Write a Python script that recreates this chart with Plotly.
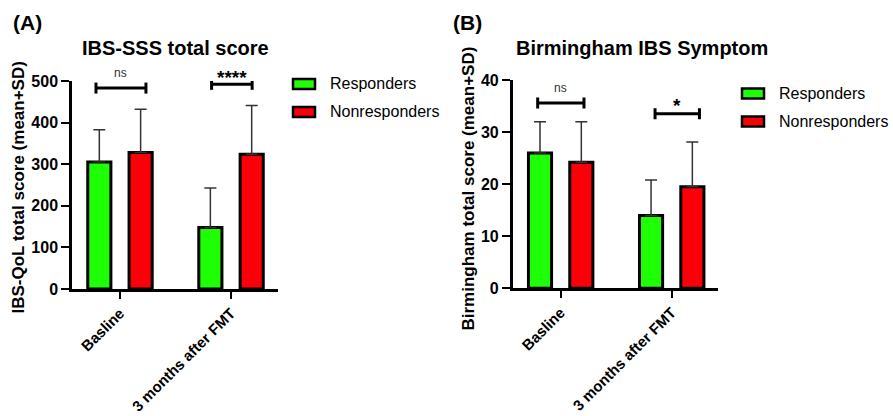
import plotly.graph_objects as go

# ---------------- data ----------------
categories = ["Basline", "3 months after FMT"]
series_names = ["Responders", "Nonresponders"]

# Panel A: IBS-SSS total score (mean + SD)
a_resp_mean = [305, 148]
a_resp_sd = [78, 95]
a_nonresp_mean = [328, 324]
a_nonresp_sd = [104, 117]
a_yticks = [0, 100, 200, 300, 400, 500]

# Panel B: Birmingham IBS Symptom (mean + SD)
b_resp_mean = [26.0, 14.0]
b_resp_sd = [6.0, 6.8]
b_nonresp_mean = [24.2, 19.5]
b_nonresp_sd = [7.8, 8.6]
b_yticks = [0, 10, 20, 30, 40]

# significance brackets: (category index, left, right, level, label)
a_sig = [(0, -0.216, 0.234, 483, "ns"), (1, -0.175, 0.19, 492, "****")]
b_sig = [(0, -0.207, 0.21, 35.6, "ns"), (1, -0.15, 0.25, 33.5, "*")]

GREEN = "#1EFF06"
RED = "#FA0008"
W, H = 893, 416
FONT = "Liberation Sans, Arial, Helvetica, sans-serif"


def px(x):
    return x / W


def py(y):
    return 1 - y / H


fig = go.Figure()


def add_bars(xa, ya, resp_m, resp_sd, non_m, non_sd):
    for name, m, sd, col in [("Responders", resp_m, resp_sd, GREEN),
                             ("Nonresponders", non_m, non_sd, RED)]:
        fig.add_trace(go.Bar(
            x=categories, y=m, name=name, xaxis=xa, yaxis=ya,
            marker=dict(color=col, line=dict(color="black", width=3)),
            error_y=dict(type="data", array=sd, arrayminus=[0] * len(sd),
                         symmetric=False, color="#333333", thickness=1.5, width=6),
            showlegend=False,
        ))


add_bars("x", "y", a_resp_mean, a_resp_sd, a_nonresp_mean, a_nonresp_sd)
add_bars("x2", "y2", b_resp_mean, b_resp_sd, b_nonresp_mean, b_nonresp_sd)

ytickfont = dict(family=FONT, size=16, color="black", weight="bold")
xtickfont = dict(family=FONT, size=15, color="black", weight="bold")
xcommon = dict(type="category", categoryorder="array", categoryarray=categories,
               showline=True, linewidth=2.5, linecolor="black", ticks="outside",
               ticklen=7, tickwidth=2, tickcolor="black", tickangle=-45,
               tickfont=xtickfont, showgrid=False, zeroline=False, fixedrange=True,
               automargin=False)
ycommon = dict(showline=True, linewidth=2.5, linecolor="black", ticks="outside",
               ticklen=8, tickwidth=2, tickcolor="black", tickfont=ytickfont,
               showgrid=False, zeroline=False, fixedrange=True, automargin=False)

fig.update_layout(
    width=W, height=H,
    margin=dict(l=0, r=0, t=0, b=0),
    paper_bgcolor="white", plot_bgcolor="white",
    barmode="group", bargap=0.256, bargroupgap=0.44,
    font=dict(family=FONT, color="black"),
    xaxis=dict(domain=[px(72), px(278)], range=[-0.432, 1.423], anchor="y", **xcommon),
    yaxis=dict(domain=[py(289), py(81)], range=[0, 500], tickvals=a_yticks,
               anchor="x", **ycommon),
    xaxis2=dict(domain=[px(512.7), px(718)], range=[-0.432, 1.417], anchor="y2", **xcommon),
    yaxis2=dict(domain=[py(288.3), py(80)], range=[0, 40], tickvals=b_yticks,
                anchor="x2", **ycommon),
)

shapes = []
annotations = []


def add_brackets(sig, xr, yr):
    for ci, l, r, lvl, lab in sig:
        shapes.append(dict(type="line", xref=xr, yref=yr, x0=ci + l, x1=ci + r,
                           y0=lvl, y1=lvl, line=dict(color="black", width=3)))
        for e in (l, r):
            shapes.append(dict(type="line", xref=xr, yref=yr, x0=ci + e, x1=ci + e,
                               ysizemode="pixel", yanchor=lvl, y0=-5.5, y1=5.5,
                               line=dict(color="black", width=3)))
        if lab == "ns":
            annotations.append(dict(x=ci + (l + r) / 2, y=lvl, xref=xr, yref=yr,
                                    text="ns", showarrow=False, yshift=15,
                                    font=dict(size=12, color="#333333", family=FONT)))
        else:
            annotations.append(dict(x=ci + (l + r) / 2, y=lvl, xref=xr, yref=yr,
                                    text=lab, showarrow=False,
                                    yshift=7 if len(lab) > 1 else 8,
                                    font=dict(size=19, color="black", family=FONT,
                                              weight="bold")))


add_brackets(a_sig, "x", "y")
add_brackets(b_sig, "x2", "y2")

# Panel letters and titles
for txt, x in [("(A)", 11), ("(B)", 451)]:
    annotations.append(dict(x=px(x), y=py(22), xref="paper", yref="paper", text=txt,
                            showarrow=False, xanchor="left", yanchor="middle",
                            font=dict(size=21, weight="bold", family=FONT, color="black")))
for txt, x in [("IBS-SSS total score", 175), ("Birmingham IBS Symptom", 642)]:
    annotations.append(dict(x=px(x), y=py(48), xref="paper", yref="paper", text=txt,
                            showarrow=False, xanchor="center", yanchor="middle",
                            font=dict(size=20, weight="bold", family=FONT, color="black")))

# Y-axis titles
for txt, x, y in [("IBS-QoL total score (mean+SD)", 18.5, 188),
                  ("Birmingham total score (mean+SD)", 468.5, 188)]:
    annotations.append(dict(x=px(x), y=py(y), xref="paper", yref="paper", text=txt,
                            showarrow=False, textangle=-90, xanchor="center",
                            yanchor="middle",
                            font=dict(size=17, weight="bold", family=FONT, color="black")))

# Legends (drawn manually to match the wide swatches)
legend_specs = [
    (293, 330, [84, 112]),
    (742, 779, [93.5, 121.5]),
]
for box_x, text_x, ys in legend_specs:
    for name, col, yc in zip(series_names, [GREEN, RED], ys):
        shapes.append(dict(type="rect", xref="paper", yref="paper",
                           x0=px(box_x), x1=px(box_x + 22), y0=py(yc - 5), y1=py(yc + 5),
                           fillcolor=col, line=dict(color="black", width=2.5)))
        annotations.append(dict(x=px(text_x - 2), y=py(yc), xref="paper", yref="paper",
                                text=name, showarrow=False, xanchor="left",
                                yanchor="middle",
                                font=dict(size=16, family=FONT, color="black")))

fig.update_layout(shapes=shapes, annotations=annotations)
fig.write_html("out.html", config={"displayModeBar": False},
               post_script="document.body.style.margin='0';document.body.style.padding='0';document.body.style.overflow='hidden';")
